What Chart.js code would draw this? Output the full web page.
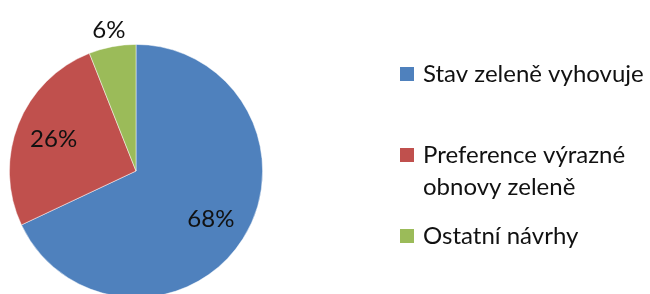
<!DOCTYPE html>
<html>
<head>
<meta charset="utf-8">
<script src="https://cdn.jsdelivr.net/npm/chart.js@4/dist/chart.umd.min.js"></script>
<style>
html,body{margin:0;padding:0;background:#fff;overflow:hidden;width:650px;height:294px;}
#wrap{position:absolute;left:0;top:0;width:650px;height:310px;}
</style>
</head>
<body>
<div id="wrap"><canvas id="c" width="650" height="310"></canvas></div>
<script>
const categories = ["Stav zeleně vyhovuje", "Preference výrazné obnovy zeleně", "Ostatní návrhy"];
const values = [68, 26, 6];
const colors = ["#4F81BD", "#C0504D", "#9BBB59"];

const FONT = "Lato, 'Open Sans', sans-serif";

const pctLabels = {
  id: 'pctLabels',
  afterDatasetsDraw(chart) {
    const ctx = chart.ctx;
    const meta = chart.getDatasetMeta(0);
    const total = values.reduce((a, b) => a + b, 0);
    ctx.save();
    ctx.font = "24px " + FONT;
    ctx.fillStyle = "#111";
    ctx.textAlign = "center";
    ctx.textBaseline = "middle";
    meta.data.forEach((arc, i) => {
      const p = arc.getProps(['x', 'y', 'startAngle', 'endAngle', 'outerRadius'], true);
      const mid = (p.startAngle + p.endAngle) / 2;
      const share = values[i] / total * 100;
      const r = share < 10 ? p.outerRadius + 18 : p.outerRadius * 0.7;
      ctx.fillText(Math.round(share) + "%", p.x + Math.cos(mid) * r, p.y + Math.sin(mid) * r + 1);
    });
    ctx.restore();
  }
};

const sideLegend = {
  id: 'sideLegend',
  afterDraw(chart) {
    const ctx = chart.ctx;
    const x0 = 400, box = 14, tx = 423, maxW = 230;
    const firstBase = 82, step = 81, lineH = 32;
    ctx.save();
    ctx.font = "24px " + FONT;
    ctx.textBaseline = "alphabetic";
    ctx.textAlign = "left";
    chart.data.labels.forEach((label, i) => {
      const words = label.split(" ");
      const lines = [];
      let cur = "";
      words.forEach(w => {
        const t = cur ? cur + " " + w : w;
        if (ctx.measureText(t).width > maxW && cur) { lines.push(cur); cur = w; }
        else cur = t;
      });
      if (cur) lines.push(cur);
      const base = firstBase + step * i;
      ctx.fillStyle = chart.data.datasets[0].backgroundColor[i];
      ctx.fillRect(x0, base - 15, box, box);
      ctx.fillStyle = "#111";
      lines.forEach((ln, j) => ctx.fillText(ln, tx, base + j * lineH));
    });
    ctx.restore();
  }
};

new Chart(document.getElementById('c'), {
  type: 'pie',
  data: {
    labels: categories,
    datasets: [{
      data: values,
      backgroundColor: colors,
      borderColor: "rgba(255,255,255,0.6)",
      borderWidth: 0.8
    }]
  },
  options: {
    responsive: false,
    animation: false,
    layout: { padding: { left: 9, top: 44, right: 387, bottom: 12 } },
    plugins: { legend: { display: false }, tooltip: { enabled: false } }
  },
  plugins: [pctLabels, sideLegend]
});
</script>
</body>
</html>
